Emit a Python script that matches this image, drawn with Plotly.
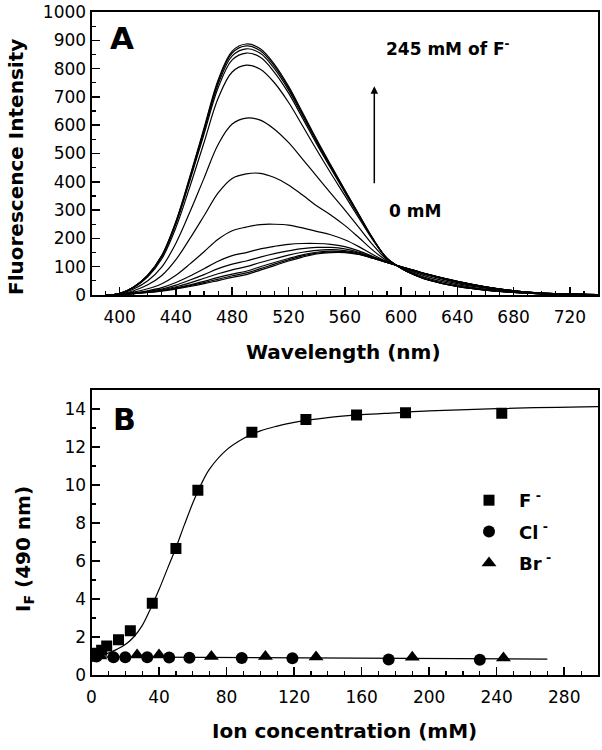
import plotly.graph_objects as go

# ---------------- Panel A: emission spectra ----------------
wavelength = [390, 400, 410, 420, 430, 440, 450, 460, 470, 480, 490, 500, 510, 520, 530,
              540, 550, 560, 570, 580, 590, 600, 610, 620, 640, 660, 680, 700, 720, 740]

spec_0mM = [0, 2, 5, 9, 14, 21, 30, 40, 51, 62, 72, 88, 104, 120, 134,
            145, 150, 150, 143, 130, 115, 100, 86, 72, 48, 29, 15, 7, 3, 1]
spec_2mM = [0, 2, 5, 9, 15, 23, 33, 44, 56, 68, 78, 93, 109, 124, 138,
            148, 152, 152, 144, 130, 115, 100, 86, 72, 48, 29, 15, 7, 3, 1]
spec_5mM = [0, 2, 5, 10, 16, 25, 36, 48, 62, 74, 84, 100, 115, 129, 142,
            151, 155, 153, 145, 131, 115, 100, 86, 72, 48, 29, 15, 7, 3, 1]
spec_9mM = [0, 2, 6, 11, 18, 29, 43, 59, 75, 89, 100, 115, 128, 141, 151,
            158, 160, 157, 148, 132, 115, 100, 85, 71, 47, 29, 15, 7, 3, 1]
spec_16mM = [0, 2, 6, 13, 21, 35, 53, 72, 93, 109, 120, 134, 146, 156, 164,
             168, 168, 163, 151, 134, 116, 100, 85, 71, 47, 28, 15, 7, 3, 1]
spec_23mM = [0, 2, 7, 15, 26, 44, 67, 93, 119, 139, 150, 163, 172, 179, 182,
             182, 179, 171, 156, 136, 116, 100, 84, 70, 46, 28, 14, 7, 3, 1]
spec_36mM = [0, 3, 10, 22, 40, 70, 110, 153, 197, 227, 240, 249, 250, 247, 237,
             225, 213, 195, 171, 143, 118, 99, 83, 68, 44, 26, 14, 6, 3, 1]
spec_50mM = [0, 3, 15, 36, 69, 125, 200, 280, 361, 412, 428, 430, 415, 389, 353,
             315, 283, 246, 203, 158, 121, 98, 79, 63, 40, 24, 12, 6, 3, 1]
spec_63mM = [0, 4, 21, 50, 99, 183, 294, 413, 532, 604, 625, 618, 586, 539, 480,
             420, 360, 301, 239, 177, 125, 97, 75, 58, 36, 21, 11, 5, 2, 1]
spec_95mM = [0, 5, 26, 64, 128, 238, 384, 539, 695, 788, 812, 798, 750, 681, 598,
             513, 431, 352, 272, 194, 129, 95, 71, 54, 32, 18, 10, 4, 2, 1]
spec_127mM = [0, 5, 27, 68, 135, 251, 405, 569, 732, 831, 855, 840, 787, 714, 625,
              534, 448, 363, 279, 197, 129, 95, 71, 53, 31, 18, 9, 4, 2, 1]
spec_157mM = [0, 5, 28, 69, 137, 255, 412, 579, 745, 845, 870, 854, 800, 725, 634,
              541, 453, 367, 282, 198, 130, 95, 70, 52, 30, 17, 9, 4, 2, 1]
spec_186mM = [0, 5, 28, 70, 139, 258, 416, 585, 754, 855, 880, 863, 809, 732, 640,
              546, 457, 370, 284, 199, 130, 95, 70, 52, 30, 17, 9, 4, 2, 1]
spec_245mM = [0, 5, 28, 70, 140, 260, 420, 590, 760, 862, 887, 870, 815, 738, 645,
              550, 460, 372, 285, 200, 130, 95, 70, 52, 30, 17, 9, 4, 2, 1]

spectra = [spec_0mM, spec_2mM, spec_5mM, spec_9mM, spec_16mM, spec_23mM, spec_36mM,
           spec_50mM, spec_63mM, spec_95mM, spec_127mM, spec_157mM, spec_186mM, spec_245mM]
spectra_labels = ["0 mM", "2 mM", "5 mM", "9 mM", "16 mM", "23 mM", "36 mM",
                  "50 mM", "63 mM", "95 mM", "127 mM", "157 mM", "186 mM", "245 mM"]

# ---------------- Panel B: titration ----------------
F_conc = [0, 3, 6, 9, 16, 23, 36, 50, 63, 95, 127, 157, 186, 243]
F_IF = [1.0, 1.15, 1.3, 1.52, 1.85, 2.33, 3.77, 6.66, 9.72, 12.77, 13.45, 13.68, 13.8, 13.77]

Cl_conc = [0, 3, 13, 20, 33, 46, 58, 89, 119, 176, 230]
Cl_IF = [1.0, 0.97, 0.94, 0.93, 0.93, 0.92, 0.91, 0.9, 0.88, 0.82, 0.8]

Br_conc = [0, 5, 27, 40, 71, 103, 133, 190, 244]
Br_IF = [1.0, 1.0, 1.05, 1.05, 0.98, 0.98, 0.95, 0.93, 0.9]

F_fit_conc = [0, 5, 10, 15, 20, 25, 30, 35, 40, 45, 50, 55, 60, 65, 70, 80, 90, 100,
              110, 120, 140, 160, 180, 200, 240, 300]
F_fit_IF = [1.0, 1.05, 1.15, 1.35, 1.6, 2.0, 2.6, 3.5, 4.5, 5.6, 6.7, 7.9, 9.05, 10.05,
            10.85, 11.85, 12.45, 12.85, 13.1, 13.3, 13.55, 13.7, 13.8, 13.9, 14.02, 14.12]

ClBr_fit_conc = [0, 50, 100, 150, 200, 270]
ClBr_fit_IF = [0.95, 0.93, 0.91, 0.89, 0.87, 0.84]

FONT = "DejaVu Sans"
W, H = 602, 750

fig = go.Figure()

for s, lab in zip(spectra, spectra_labels):
    fig.add_trace(go.Scatter(x=wavelength, y=s, mode="lines", name=lab,
                             line=dict(color="black", width=1.2, shape="spline"),
                             xaxis="x", yaxis="y", showlegend=False))

fig.add_trace(go.Scatter(x=F_fit_conc, y=F_fit_IF, mode="lines",
                         line=dict(color="black", width=1.2, shape="spline"),
                         xaxis="x2", yaxis="y2", showlegend=False))
fig.add_trace(go.Scatter(x=ClBr_fit_conc, y=ClBr_fit_IF, mode="lines",
                         line=dict(color="black", width=1.2),
                         xaxis="x2", yaxis="y2", showlegend=False))
fig.add_trace(go.Scatter(x=F_conc, y=F_IF, mode="markers", name="F<sup> -</sup>",
                         legendgroup="F",
                         marker=dict(symbol="square", size=11, color="black"),
                         xaxis="x2", yaxis="y2"))
fig.add_trace(go.Scatter(x=Cl_conc, y=Cl_IF, mode="markers", name="Cl<sup> -</sup>",
                         legendgroup="Cl",
                         marker=dict(symbol="circle", size=12, color="black"),
                         xaxis="x2", yaxis="y2"))
fig.add_trace(go.Scatter(x=Br_conc, y=Br_IF, mode="markers", name="Br<sup> -</sup>",
                         legendgroup="Br",
                         marker=dict(symbol="triangle-up", size=13, color="black"),
                         xaxis="x2", yaxis="y2"))

tickfont = dict(family=FONT, size=17, color="black")
common = dict(showline=True, linecolor="black", linewidth=2, mirror=True,
              ticks="inside", ticklen=8, tickwidth=1.5, tickcolor="black",
              showgrid=False, zeroline=False, tickfont=tickfont, automargin=False)
minor = lambda d: dict(dtick=d, ticklen=4, ticks="inside", tickcolor="black",
                       tickwidth=1.2, showgrid=False)

xdom = [91.5 / W, 598 / W]
fig.update_layout(
    width=W, height=H,
    margin=dict(l=0, r=0, t=0, b=0, pad=0),
    paper_bgcolor="white", plot_bgcolor="white",
    xaxis=dict(domain=xdom, anchor="y", range=[380, 740], tick0=400, dtick=40,
               minor=minor(10), ticklabelstandoff=6, **common),
    yaxis=dict(domain=[1 - 295 / H, 1 - 12 / H], anchor="x", range=[0, 1000], dtick=100,
               minor=minor(50), **common),
    xaxis2=dict(domain=xdom, anchor="y2", range=[0, 300], tick0=0, dtick=40,
                minor=minor(10), ticklabelstandoff=6, **common),
    yaxis2=dict(domain=[1 - 675 / H, 1 - 390 / H], anchor="x2", range=[0, 15], dtick=2,
                minor=minor(1), **common),
    legend=dict(x=459 / W, y=1 - 482 / H, xanchor="left", yanchor="top",
                font=dict(family=FONT, size=18, color="black", weight="bold"),
                bgcolor="rgba(0,0,0,0)", tracegroupgap=5, itemwidth=50),
    showlegend=True,
)

bold = dict(family=FONT, color="black", weight="bold")
ann = [
    dict(text="A", x=108 / W, y=1 - 38 / H, xanchor="left", yanchor="middle",
         font=dict(size=31, **bold)),
    dict(text="B", x=111 / W, y=1 - 419 / H, xanchor="left", yanchor="middle",
         font=dict(size=30, **bold)),
    dict(text="245 mM of F<sup>-</sup>", x=384 / W, y=1 - 48 / H, xanchor="left",
         yanchor="middle", font=dict(size=17, **bold)),
    dict(text="0 mM", x=387 / W, y=1 - 211 / H, xanchor="left", yanchor="middle",
         font=dict(size=17, **bold)),
    dict(text="Fluorescence Intensity", x=16 / W, y=1 - 167 / H, textangle=-90,
         xanchor="center", yanchor="middle", font=dict(size=20, **bold)),
    dict(text="Wavelength (nm)", x=343 / W, y=1 - 352 / H, xanchor="center",
         yanchor="middle", font=dict(size=20, **bold)),
    dict(text="I<sub>F</sub> (490 nm)", x=24 / W, y=1 - 549 / H, textangle=-90,
         xanchor="center", yanchor="middle", font=dict(size=20, **bold)),
    dict(text="Ion concentration (mM)", x=344 / W, y=1 - 731 / H, xanchor="center",
         yanchor="middle", font=dict(size=20, **bold)),
]
for a in ann:
    fig.add_annotation(xref="paper", yref="paper", showarrow=False, **a)

# arrow in panel A
fig.add_annotation(xref="x", yref="y", axref="x", ayref="y", x=581, y=738, ax=581, ay=390,
                   text="", showarrow=True, arrowhead=2, arrowsize=1, arrowwidth=1.5,
                   arrowcolor="black")

fig.write_html("out.html",
               config={"displayModeBar": False, "staticPlot": True},
               post_script="document.body.style.margin='0px';"
                           "document.body.style.overflow='hidden';")
